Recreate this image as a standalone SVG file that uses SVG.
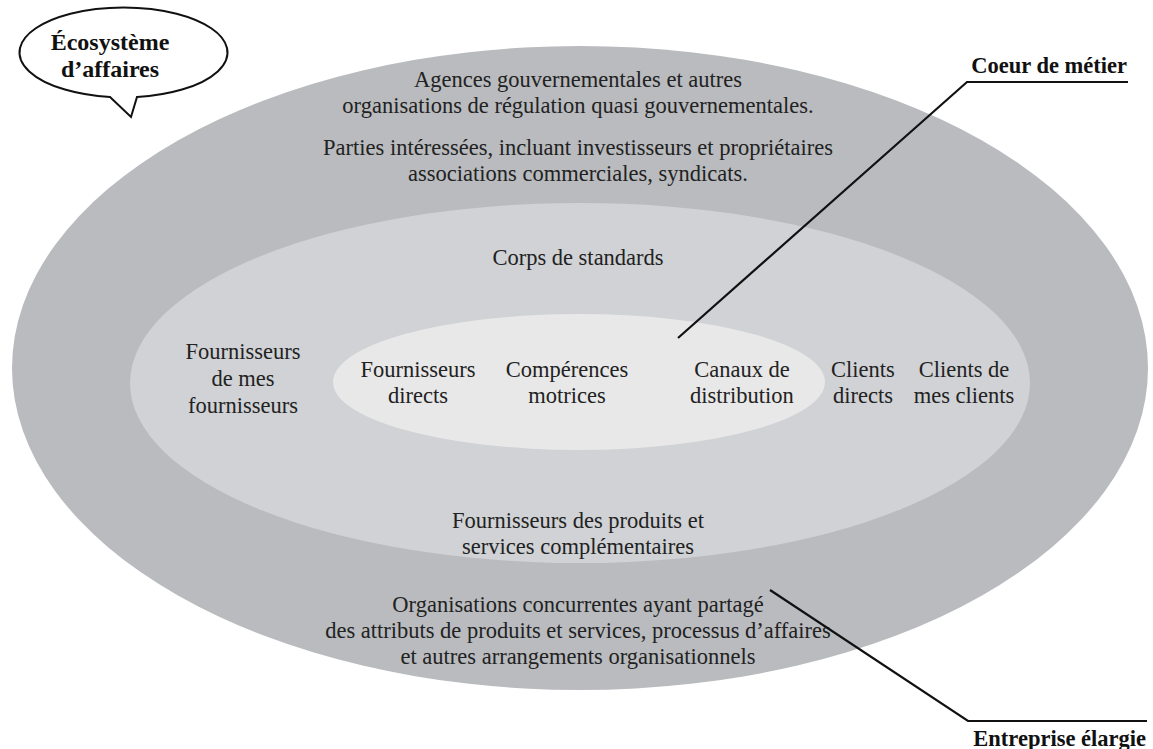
<svg xmlns="http://www.w3.org/2000/svg" width="1153" height="749" viewBox="0 0 1153 749">
<style>
.t{font-family:"Liberation Serif","Times New Roman",serif;font-size:22.5px;fill:#222;text-anchor:middle}
.b{font-family:"Liberation Serif","Times New Roman",serif;font-size:22.5px;font-weight:bold;fill:#111}
.ln{fill:none;stroke:#111;stroke-width:2.2}
</style>
<rect width="1153" height="749" fill="#fff"/>
<g id="ecosysteme">
<ellipse cx="580" cy="368" rx="568" ry="322" fill="#b9bbbe"/>
<text class="t" x="578" y="87">Agences gouvernementales et autres</text>
<text class="t" x="578" y="113">organisations de régulation quasi gouvernementales.</text>
<text class="t" x="578" y="155">Parties intéressées, incluant investisseurs et propriétaires</text>
<text class="t" x="578" y="181">associations commerciales, syndicats.</text>
<text class="t" x="578" y="612">Organisations concurrentes ayant partagé</text>
<text class="t" x="578" y="638">des attributs de produits et services, processus d’affaires</text>
<text class="t" x="578" y="664">et autres arrangements organisationnels</text>
</g>
<g id="entreprise-elargie">
<ellipse cx="580" cy="383" rx="450" ry="180" fill="#d0d2d5"/>
<text class="t" x="578" y="265">Corps de standards</text>
<text class="t" x="243" y="359">Fournisseurs</text>
<text class="t" x="243" y="386">de mes</text>
<text class="t" x="243" y="413">fournisseurs</text>
<text class="t" x="863" y="377">Clients</text>
<text class="t" x="863" y="403">directs</text>
<text class="t" x="964" y="377">Clients de</text>
<text class="t" x="964" y="403">mes clients</text>
<text class="t" x="578" y="528">Fournisseurs des produits et</text>
<text class="t" x="578" y="554">services complémentaires</text>
</g>
<g id="coeur-de-metier">
<ellipse cx="579" cy="382" rx="246" ry="68" fill="#e8e8e8"/>
<text class="t" x="418" y="377">Fournisseurs</text>
<text class="t" x="418" y="403">directs</text>
<text class="t" x="567" y="377">Compérences</text>
<text class="t" x="567" y="403">motrices</text>
<text class="t" x="742" y="377">Canaux de</text>
<text class="t" x="742" y="403">distribution</text>
</g>
<g id="bulle">
<path d="M110,97 A104,45 0 1 1 137,97 L131,117 Z" fill="#fff" stroke="#111" stroke-width="2"/>
<text class="b" x="110" y="50" style="text-anchor:middle;font-size:24px">Écosystème</text>
<text class="b" x="110" y="77" style="text-anchor:middle;font-size:24px">d’affaires</text>
</g>
<g id="connecteurs">
<polyline class="ln" points="678,338 967,82 1128,82"/>
<polyline class="ln" points="770,590 968,721 1147,721"/>
</g>
<g id="labels">
<text class="b" x="1127" y="73" text-anchor="end">Coeur de métier</text>
<text class="b" x="1146" y="746" text-anchor="end">Entreprise élargie</text>
</g>
</svg>
